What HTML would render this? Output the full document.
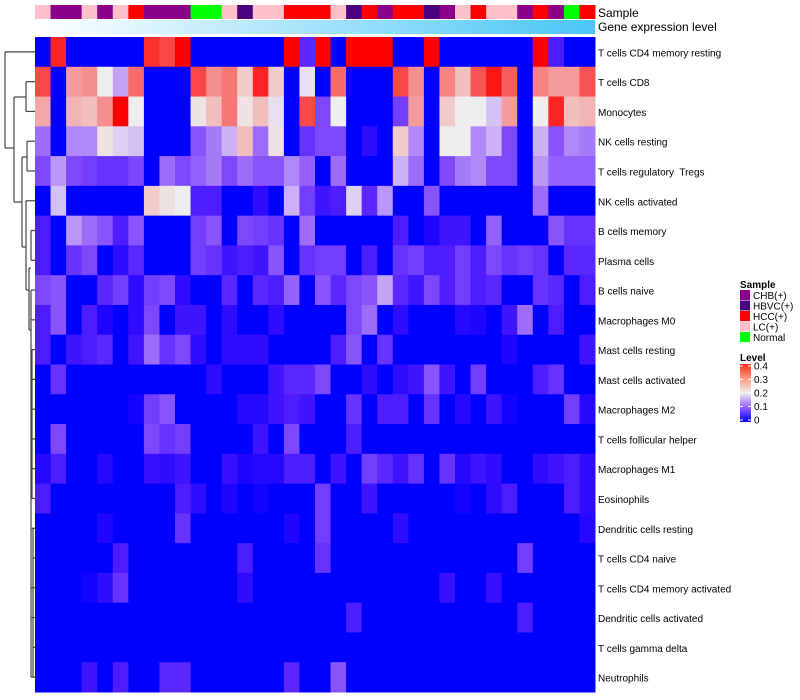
<!DOCTYPE html>
<html><head><meta charset="utf-8"><style>
html,body{margin:0;padding:0;background:#fff;}
svg{display:block;font-family:"Liberation Sans",sans-serif;}
#labels text{white-space:pre;}
</style></head><body>
<svg id="chart" width="800" height="700" viewBox="0 0 800 700">
<defs>
<linearGradient id="geneGrad" x1="0" x2="1" y1="0" y2="0"><stop offset="0" stop-color="#ffffff"/><stop offset="1" stop-color="#4ac6f5"/></linearGradient>
<linearGradient id="levelGrad" x1="0" x2="0" y1="1" y2="0"><stop offset="0" stop-color="#0000ff"/><stop offset="0.25" stop-color="#9360ff"/><stop offset="0.5" stop-color="#eeeeee"/><stop offset="0.75" stop-color="#ff9a80"/><stop offset="1" stop-color="#ff2a1a"/></linearGradient>
</defs>
<g id="dendro" stroke="#444" stroke-width="1.2" fill="none"></g>
<g id="annot"></g>
<rect x="35" y="20" width="560" height="14" fill="url(#geneGrad)"/>
<text x="598" y="17" font-size="12">Sample</text>
<text x="598" y="31" font-size="12">Gene expression level</text>
<g id="cells"></g>
<g id="labels"></g>
<g>
<text x="740" y="288" font-size="10" font-weight="bold">Sample</text>
<g id="slegend"></g>
<text x="740" y="361" font-size="10" font-weight="bold">Level</text>
<rect x="740" y="364" width="11" height="58" fill="url(#levelGrad)"/>
<g id="llegend" font-size="10"></g>
</g>
</svg>
<script>
const rowNames=["T cells CD4 memory resting","T cells CD8","Monocytes","NK cells resting","T cells regulatory  Tregs","NK cells activated","B cells memory","Plasma cells","B cells naive","Macrophages M0","Mast cells resting","Mast cells activated","Macrophages M2","T cells follicular helper","Macrophages M1","Eosinophils","Dendritic cells resting","T cells CD4 naive","T cells CD4 memory activated","Dendritic cells activated","T cells gamma delta","Neutrophils"];
const sampleGroups=["LC","CHB","CHB","LC","CHB","LC","HCC","CHB","CHB","CHB","Normal","Normal","LC","HBVC","LC","LC","HCC","HCC","HCC","LC","HBVC","HCC","CHB","HCC","HCC","HBVC","CHB","LC","HCC","LC","LC","CHB","HCC","CHB","Normal","HCC"];
const groupNames=["CHB","HBVC","HCC","LC","Normal"];
const groupLabels=["CHB(+)","HBVC(+)","HCC(+)","LC(+)","Normal"];
const groupColors={CHB:"#8b008b",HBVC:"#4b0082",HCC:"#ff0000",LC:"#ffc0cb",Normal:"#00ff00"};
const levelTicks=[0,0.1,0.2,0.3,0.4];
const r1=[0,.37,0,0,0,0,0,.36,.34,.4,0,0,0,0,0,0,.4,.05,.4,0,.4,.4,.4,0,0,.4,0,0,0,0,0,0,.4,.04,0,0];
const r2=[.34,0,.27,.28,.2,.15,.31,0,0,0,.34,.28,.3,.23,.37,.23,0,.19,0,.31,0,0,0,.34,.28,0,.29,.24,.33,.38,.32,0,.29,.27,.27,.33];
const r3=[.26,0,.25,.24,.28,.4,.2,0,0,0,.21,.24,.3,.21,.24,.19,0,.34,.08,.2,0,0,0,.07,.27,0,.23,.2,.2,.17,.27,0,.2,.37,.24,.25];
const r4=[.11,0,.13,.13,.21,.18,.17,0,0,0,.09,.12,.16,.24,.11,.21,0,.06,.08,.08,0,.02,0,.23,.13,0,.2,.2,.13,.16,.08,0,.16,.09,.13,.12];
const r5=[.08,.14,.08,.07,.06,.06,.08,0,.11,.08,.1,.12,.08,.11,.09,.09,.13,.1,0,.11,0,0,0,.16,.11,0,.08,.12,.13,.08,.08,0,.14,.1,.1,.1];
const r6=[0,.17,0,0,0,0,0,.23,.21,.2,.04,.04,0,0,.02,0,.16,.07,.03,.04,.18,.05,.14,0,0,.09,0,0,0,0,0,0,.11,0,0,0];
const r7=[.04,0,.14,.11,.09,.04,.09,0,0,0,.07,.09,0,.08,.07,.06,0,.11,0,0,0,0,0,.04,0,.01,.03,.03,0,.1,0,0,0,.09,.06,.06];
const r8=[.04,0,.06,.08,0,.02,.05,0,0,0,.07,.06,.03,.04,.03,.09,0,.06,.07,.07,0,.04,0,.06,.07,.04,.04,.07,.04,.08,.06,.07,.06,0,.05,.05];
const r9=[.08,.09,0,0,.05,.07,.02,.07,.08,.02,0,0,.05,0,.05,.04,.1,0,.09,.05,.08,.09,.15,.05,.03,.08,.04,.07,.04,.05,0,0,.06,.05,0,.04];
const r10=[.04,.09,0,.04,.01,0,.02,.08,0,.03,.03,0,.02,0,0,.02,0,0,0,0,.08,.11,0,.02,0,0,0,.015,.01,0,.03,.11,0,.04,0,0];
const r11=[.04,0,.03,.04,.05,0,.03,.11,.06,.08,.02,0,.02,.02,.02,0,0,0,0,.04,.09,0,.06,0,0,0,0,0,0,0,.01,0,0,0,0,.03];
const r12=[0,.06,0,0,0,0,0,0,0,0,0,.02,0,0,0,.03,.05,.05,.08,0,0,.02,0,.02,.03,.09,.03,0,.07,0,0,0,.04,.06,0,0];
const r13=[0,0,0,0,0,0,.005,.07,.09,0,0,0,0,.015,.015,.03,.04,.03,0,0,.06,0,.04,.04,0,.06,0,.015,0,.03,.005,0,0,0,.07,.015];
const r14=[0,.08,0,0,0,0,0,.08,.06,.07,0,0,0,0,.03,0,.08,0,0,0,.04,0,0,0,0,0,0,0,0,0,0,0,0,0,0,0];
const r15=[.015,.04,0,0,.015,0,0,.025,.02,.03,0,0,.025,.01,.015,.015,.04,.04,0,.03,0,.07,.05,.03,.06,0,.06,.015,.03,.02,0,0,.02,.03,.04,.02];
const r16=[.04,0,0,0,0,0,0,0,0,.04,.02,0,.01,0,.005,0,0,0,.07,0,0,.03,0,0,0,0,0,.005,0,.02,.04,0,0,0,.04,.02];
const r17=[0,0,0,0,.01,0,0,0,0,.06,0,0,0,0,0,0,.01,0,.07,0,0,0,0,.02,0,0,0,0,0,0,0,0,0,0,0,.015];
const r18=[0,0,0,0,0,.04,0,0,0,0,0,0,0,.04,0,0,0,0,.06,0,0,0,0,0,0,0,0,0,0,0,0,.07,0,0,0,0];
const r19=[0,0,0,.005,.02,.06,0,0,0,0,0,0,0,.02,0,0,0,0,0,0,0,0,0,0,0,0,.025,0,0,.025,0,0,0,0,0,0];
const r20=[0,0,0,0,0,0,0,0,0,0,0,0,0,0,0,0,0,0,0,0,.04,0,0,0,0,0,0,0,0,0,0,.04,0,0,0,0];
const r21=[0,0,0,0,0,0,0,0,0,0,0,0,0,0,0,0,0,0,0,0,0,0,0,0,0,0,0,0,0,0,0,0,0,0,0,0];
const r22=[0,0,0,.03,0,.04,0,0,.05,.05,0,0,0,0,0,0,.05,0,0,.09,0,0,0,0,0,0,0,0,0,0,0,0,0,0,0,0];
const values=[r1,r2,r3,r4,r5,r6,r7,r8,r9,r10,r11,r12,r13,r14,r15,r16,r17,r18,r19,r20,r21,r22];

const NS="http://www.w3.org/2000/svg";
const X0=35,X1=595,Y0=37,Y1=692;
const nCol=sampleGroups.length,nRow=rowNames.length;
const cw=(X1-X0)/nCol,rh=(Y1-Y0)/nRow;
const xPos=c=>X0+c*cw, yPos=r=>Y0+r*rh, yMid=r=>Y0+(r+0.5)*rh;
function color(v){
  v=Math.max(0,Math.min(0.4,v));
  let r,g,b;
  if(v<=0.2){const t=v/0.2;r=238*Math.pow(t,0.7);g=238*Math.pow(t,1.3);b=255-17*t*t;}
  else{const t=(v-0.2)/0.2;r=238+17*t;g=238*(1-t);b=238*(1-t);}
  return `rgb(${Math.round(r)},${Math.round(g)},${Math.round(b)})`;
}
function mk(tag,attrs,parent){const e=document.createElementNS(NS,tag);for(const k in attrs)e.setAttribute(k,attrs[k]);parent.appendChild(e);return e;}
const cells=document.getElementById('cells');
values.forEach((row,r)=>row.forEach((v,c)=>{
  const e=mk('rect',{x:xPos(c),y:yPos(r),width:cw+0.5,height:rh+0.5,fill:color(v)},cells);
  
  
}));
const annot=document.getElementById('annot');
sampleGroups.forEach((g,c)=>{
  const e=mk('rect',{x:xPos(c),y:5,width:cw+0.5,height:14,fill:groupColors[g]},annot);
  
  
});
const labels=document.getElementById('labels');
rowNames.forEach((n,r)=>{
  const t=mk('text',{x:598,y:yMid(r)+4.5,'font-size':10,fill:'#000'},labels);
  t.textContent=n;
  
  
});
const sl=document.getElementById('slegend');
groupNames.forEach((g,i)=>{
  const y=290+i*10.5;
  const s=mk('rect',{x:740,y:y,width:10,height:10,fill:groupColors[g]},sl);
  
  
  const t=mk('text',{x:753,y:y+9,'font-size':10},sl);
  t.textContent=groupLabels[i];
  
  
});
const ll=document.getElementById('llegend');
levelTicks.forEach(v=>{
  const y=420-(v/0.4)*54;
  const t=mk('text',{x:754,y:y+3.5,'font-size':10},ll);
  t.textContent=String(v);
  
  
  mk('line',{x1:740,x2:743,y1:y,y2:y,stroke:'#fff'},ll);
  mk('line',{x1:748,x2:751,y1:y,y2:y,stroke:'#fff'},ll);
});
const d=document.getElementById('dendro');
function seg(x1,y1,x2,y2){mk('line',{x1,y1,x2,y2},d);}
const ym=yMid;
seg(5,ym(0),5,148);seg(5,ym(0),35,ym(0));seg(5,148,14,148);
seg(14,97,14,202);seg(14,97,26,97);
seg(26,ym(1),26,ym(2));seg(26,ym(1),35,ym(1));seg(26,ym(2),35,ym(2));
seg(14,202,22,202);
seg(22,157,22,247);seg(22,157,27,157);
seg(27,ym(3),27,ym(4));seg(27,ym(3),35,ym(3));seg(27,ym(4),35,ym(4));
seg(22,247,26,247);
seg(26,ym(5),26,290);seg(26,ym(5),35,ym(5));seg(26,290,29,290);
seg(29,268,29,330);seg(29,268,31,268);
seg(31,ym(6),31,ym(7));seg(31,ym(6),35,ym(6));seg(31,ym(7),35,ym(7));
seg(29,330,31,330);
seg(31,ym(8),35,ym(8));
for(let r=9;r<nRow;r++){
  const x=31+((r%3)*0.7);
  seg(x,ym(r),35,ym(r));
}
seg(31,ym(8),31,ym(nRow-1));
seg(32,ym(10),32,ym(15));
seg(33,ym(16),33,ym(21));
</script>
</body></html>
